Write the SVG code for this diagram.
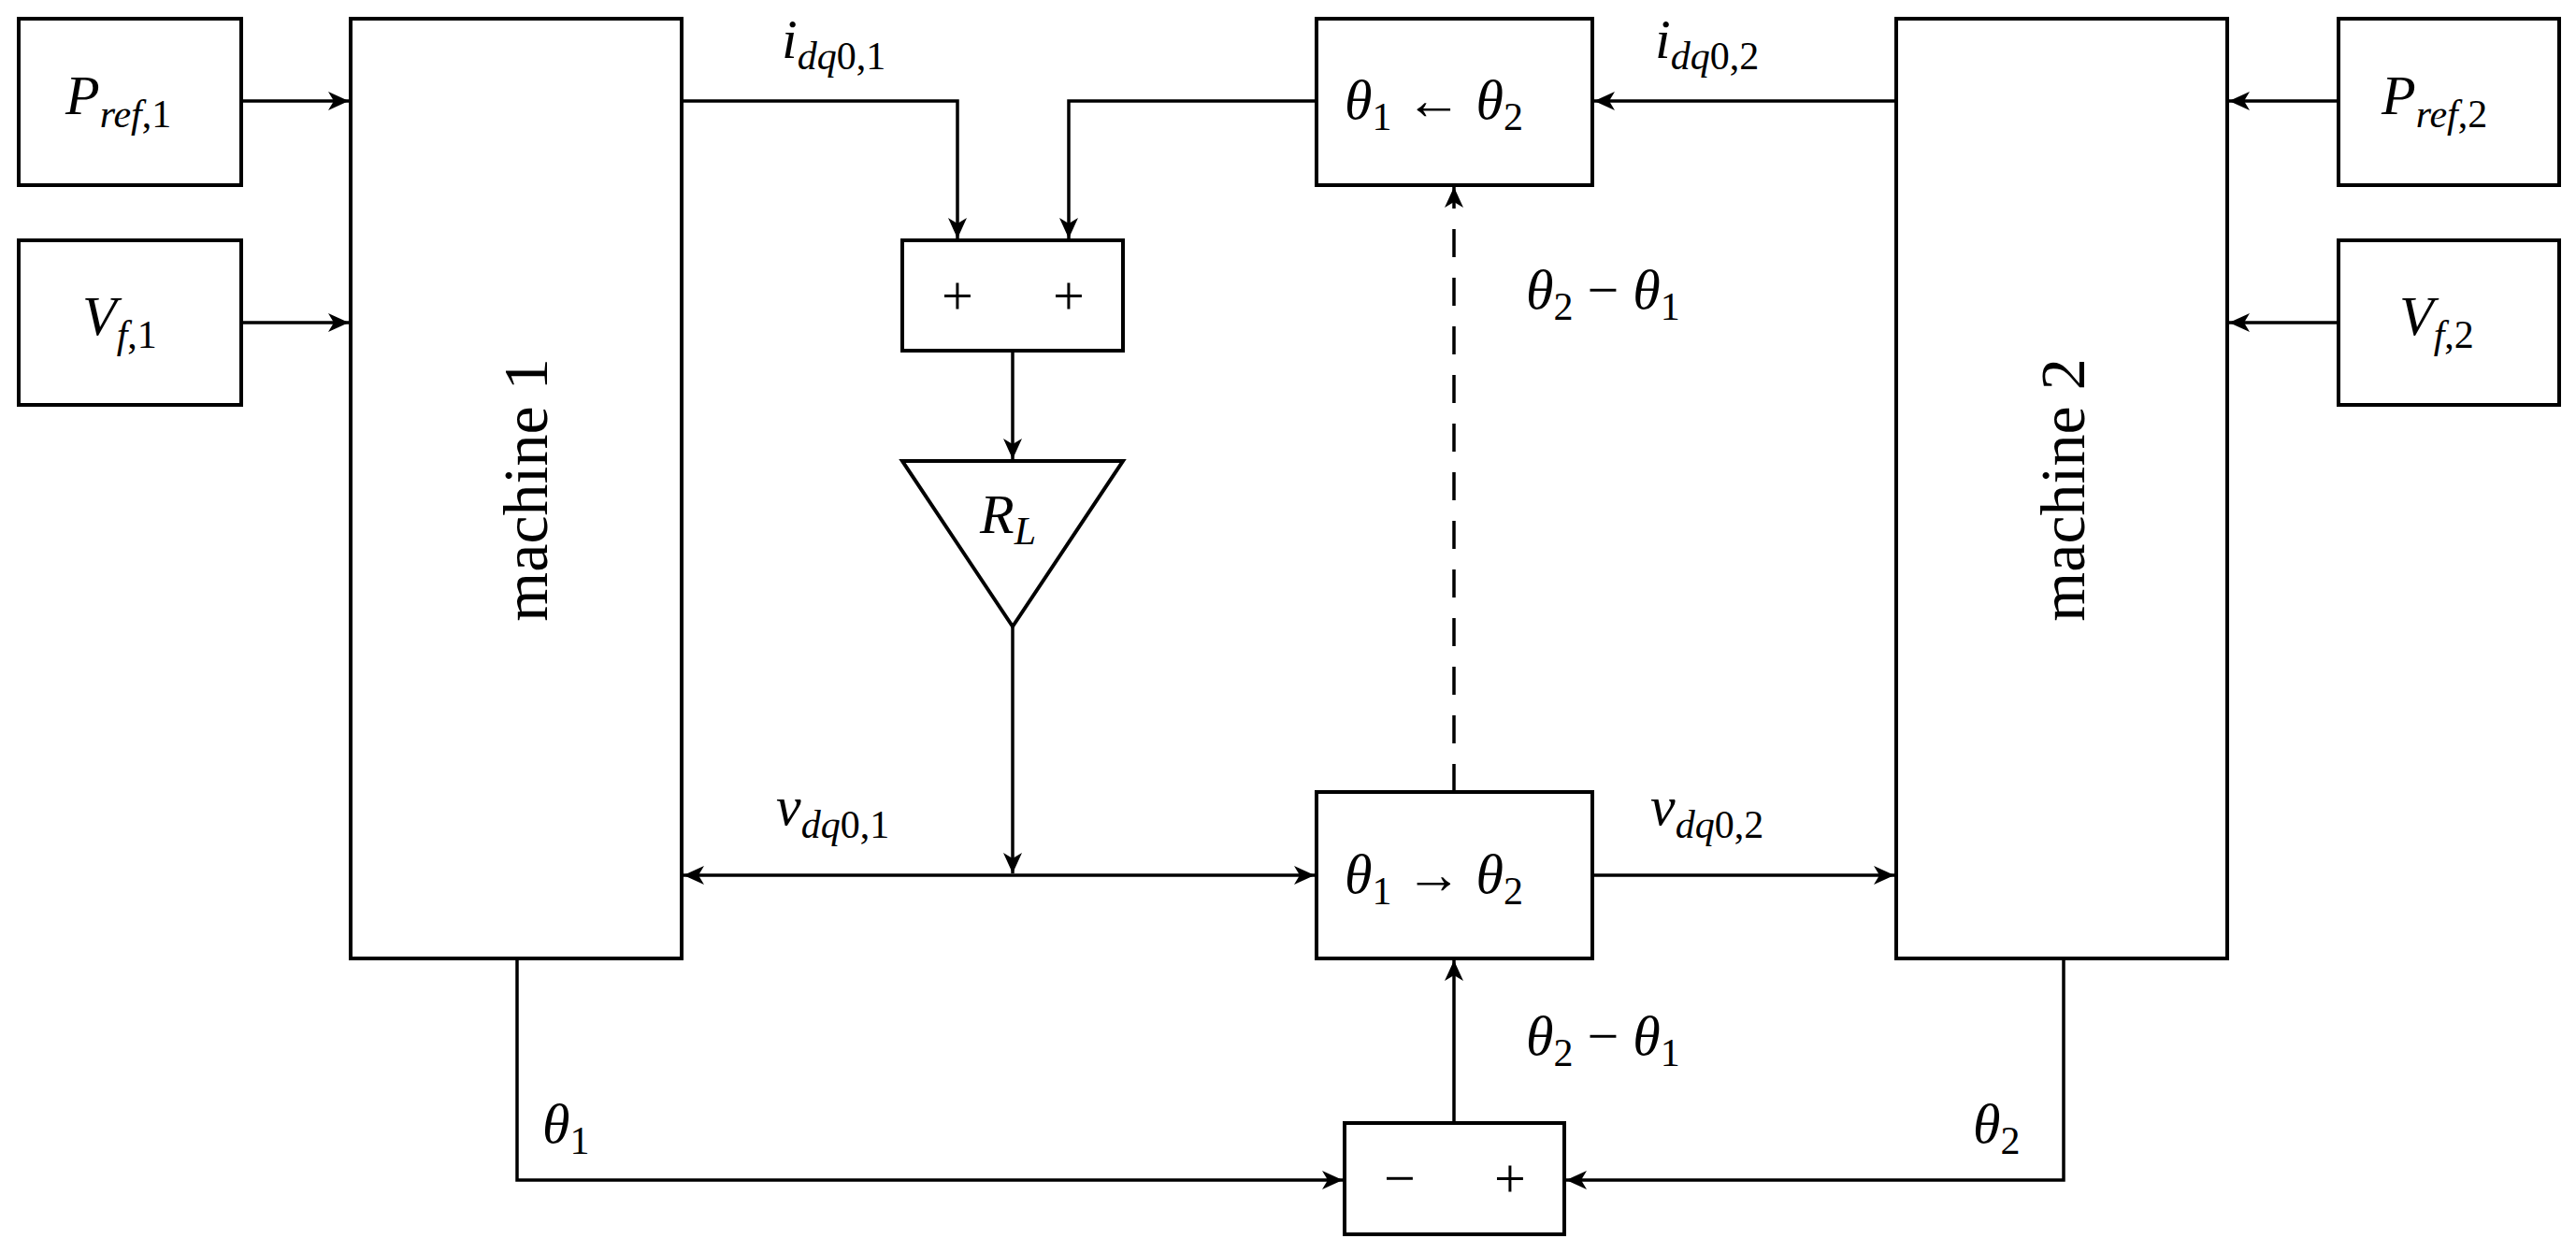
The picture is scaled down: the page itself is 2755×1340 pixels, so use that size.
<svg xmlns="http://www.w3.org/2000/svg" width="2755" height="1340" viewBox="0 0 2755 1340">
<style>
.b{fill:#fff;stroke:#000;stroke-width:4}
.l{fill:none;stroke:#000;stroke-width:3.5}
.m{font-family:"Liberation Serif",serif;font-style:italic;font-size:60px}
.s{font-size:42px}
.r{font-family:"Liberation Serif",serif;font-size:60px}
.big{font-family:"Liberation Serif",serif;font-size:68px}
</style>
<defs>
<marker id="a" markerWidth="12" markerHeight="12" refX="10" refY="6" orient="auto-start-reverse" markerUnits="userSpaceOnUse" viewBox="0 0 12 12"><path d="M0,0 L10,6 L0,12 L3,6 Z" fill="#000"/></marker>
<marker id="A" markerWidth="24" markerHeight="24" refX="22" refY="12" orient="auto-start-reverse" markerUnits="userSpaceOnUse" viewBox="0 0 24 24"><path d="M0,2 L22,12 L0,22 L6,12 Z" fill="#000"/></marker>
</defs>
<g id="connectors">
<path class="l" d="M258,108 H373" marker-end="url(#A)"/>
<path class="l" d="M258,345 H373" marker-end="url(#A)"/>
<path class="l" d="M2501,108 H2384" marker-end="url(#A)"/>
<path class="l" d="M2501,345 H2384" marker-end="url(#A)"/>
<path class="l" d="M729,108 H1024 V255" marker-end="url(#A)"/>
<path class="l" d="M1408,108 H1143 V255" marker-end="url(#A)"/>
<path class="l" d="M2028,108 H1705" marker-end="url(#A)"/>
<path class="l" d="M1083,375 V491" marker-end="url(#A)"/>
<path class="l" d="M1083,670 V934" marker-end="url(#A)"/>
<path class="l" d="M731,936 H1406" marker-start="url(#A)" marker-end="url(#A)"/>
<path class="l" d="M1703,936 H2026" marker-end="url(#A)"/>
<path class="l" d="M1555,847 V200" stroke-dasharray="30,22" marker-end="url(#A)"/>
<path class="l" d="M1555,1201 V1027" marker-end="url(#A)"/>
<path class="l" d="M553,1025 V1262 H1436" marker-end="url(#A)"/>
<path class="l" d="M2207,1025 V1262 H1675" marker-end="url(#A)"/>
<text class="m" x="836" y="62">i<tspan class="s" dy="12">dq</tspan><tspan class="s" style="font-style:normal">0,1</tspan></text>
<text class="m" x="1770" y="62">i<tspan class="s" dy="12">dq</tspan><tspan class="s" style="font-style:normal">0,2</tspan></text>
<text class="m" x="830" y="882">v<tspan class="s" dy="14">dq</tspan><tspan class="s" style="font-style:normal">0,1</tspan></text>
<text class="m" x="1765" y="882">v<tspan class="s" dy="14">dq</tspan><tspan class="s" style="font-style:normal">0,2</tspan></text>
<text class="m" x="1632" y="330">θ<tspan class="s" dy="12" style="font-style:normal">2</tspan><tspan dy="-12" style="font-style:normal"> − </tspan>θ<tspan class="s" dy="12" style="font-style:normal">1</tspan></text>
<text class="m" x="1632" y="1128">θ<tspan class="s" dy="12" style="font-style:normal">2</tspan><tspan dy="-12" style="font-style:normal"> − </tspan>θ<tspan class="s" dy="12" style="font-style:normal">1</tspan></text>
<text class="m" x="580" y="1222">θ<tspan class="s" dy="12" style="font-style:normal">1</tspan></text>
<text class="m" x="2110" y="1222">θ<tspan class="s" dy="12" style="font-style:normal">2</tspan></text>
</g>
<g id="pref1"><rect class="b" x="20" y="20" width="238" height="178"/><text class="m" x="70" y="122">P<tspan class="s" dy="14">ref</tspan><tspan class="s" dy="0" style="font-style:normal">,1</tspan></text></g>
<g id="vf1"><rect class="b" x="20" y="257" width="238" height="176"/><text class="m" x="88" y="358">V<tspan class="s" dy="14">f</tspan><tspan class="s" style="font-style:normal">,1</tspan></text></g>
<g id="pref2"><rect class="b" x="2501" y="20" width="236" height="178"/><text class="m" x="2547" y="122">P<tspan class="s" dy="14">ref</tspan><tspan class="s" style="font-style:normal">,2</tspan></text></g>
<g id="vf2"><rect class="b" x="2501" y="257" width="236" height="176"/><text class="m" x="2566" y="358">V<tspan class="s" dy="14">f</tspan><tspan class="s" style="font-style:normal">,2</tspan></text></g>
<g id="machine1"><rect class="b" x="375" y="20" width="354" height="1005"/><text class="big" transform="translate(585,524) rotate(-90)" text-anchor="middle">machine 1</text></g>
<g id="machine2"><rect class="b" x="2028" y="20" width="354" height="1005"/><text class="big" transform="translate(2229,524) rotate(-90)" text-anchor="middle">machine 2</text></g>
<g id="sum"><rect class="b" x="965" y="257" width="236" height="118"/><text class="r" x="1024" y="336" text-anchor="middle">+</text><text class="r" x="1143" y="336" text-anchor="middle">+</text></g>
<g id="gain"><path class="b" d="M965,493 H1201 L1083,670 Z"/><text class="m" x="1048" y="570">R<tspan class="s" dy="12">L</tspan></text></g>
<g id="inv"><rect class="b" x="1408" y="20" width="295" height="178"/><text class="m" x="1438" y="127">θ<tspan class="s" dy="12" style="font-style:normal">1</tspan><tspan dy="-12" style="font-style:normal"> ← </tspan>θ<tspan class="s" dy="12" style="font-style:normal">2</tspan></text></g>
<g id="fwd"><rect class="b" x="1408" y="847" width="295" height="178"/><text class="m" x="1438" y="955">θ<tspan class="s" dy="12" style="font-style:normal">1</tspan><tspan dy="-12" style="font-style:normal"> → </tspan>θ<tspan class="s" dy="12" style="font-style:normal">2</tspan></text></g>
<g id="diff"><rect class="b" x="1438" y="1201" width="235" height="119"/><text class="r" x="1497" y="1280" text-anchor="middle">−</text><text class="r" x="1615" y="1280" text-anchor="middle">+</text></g>
</svg>
